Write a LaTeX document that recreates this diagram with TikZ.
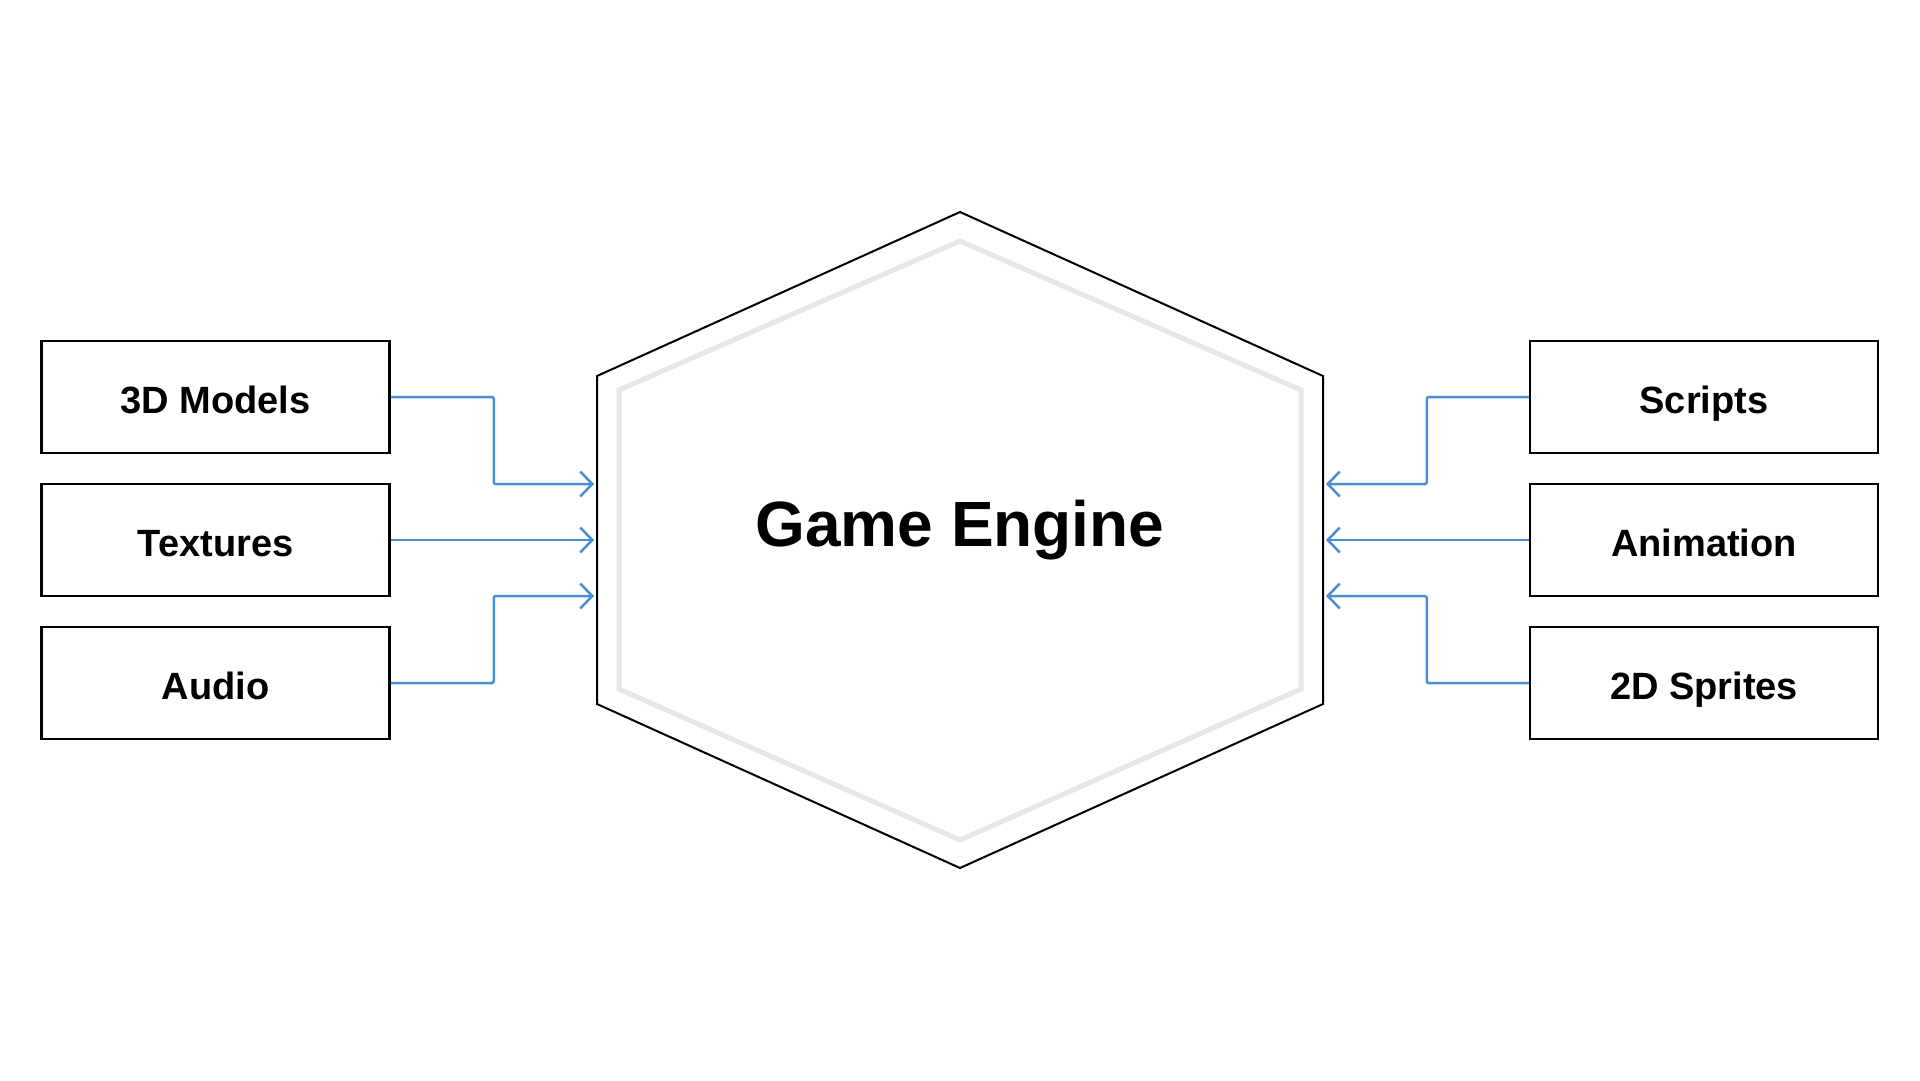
\documentclass[tikz,border=0pt]{standalone}
\usepackage{fontspec}
\setmainfont{Liberation Sans}
\usetikzlibrary{arrows.meta}
\definecolor{feedblue}{HTML}{4A8FD3}
\definecolor{hexgray}{HTML}{E6E7E7}
\tikzset{
  asset/.style={draw=black, line width=2.5pt, minimum width=348pt, minimum height=112pt, inner sep=0pt, text height=32pt, text depth=0pt, font=\fontsize{38}{46}\selectfont\bfseries},
  feed/.style={draw=feedblue, line width=2.5pt, rounded corners=2pt, -{Straight Barb[length=12pt, width=25pt, line width=2.5pt]}}
}

\begin{document}
\begin{tikzpicture}[x=1pt, y=-1pt]
\useasboundingbox (0,0) rectangle (1920,1080);

% hexagon
\draw[black, line width=2pt] (960,212) -- (1323,376) -- (1323,704) -- (960,868) -- (597,704) -- (597,376) -- cycle;
\draw[hexgray, line width=5pt] (960,241) -- (1301,390) -- (1301,689) -- (960,840) -- (619,689) -- (619,390) -- cycle;
\node[text height=46pt, text depth=0pt, inner sep=0pt] (engine) at (960,523) {\fontsize{64}{76}\selectfont\bfseries Game Engine};

% assets
\node[asset] (models) at (215.5,397) {3D Models};
\node[asset] (textures) at (215.5,540) {Textures};
\node[asset] (audio) at (215.5,683) {Audio};
\node[asset] (scripts) at (1704,397) {Scripts};
\node[asset] (animation) at (1704,540) {Animation};
\node[asset] (sprites) at (1704,683) {2D Sprites};

\coordinate (inA) at (594,484);
\coordinate (inB) at (594,540);
\coordinate (inC) at (594,596);
\coordinate (inD) at (1326,484);
\coordinate (inE) at (1326,540);
\coordinate (inF) at (1326,596);

\draw[feed] (models.east) -- ++(103,0) |- (inA);
\draw[feed] (textures.east) -- (inB);
\draw[feed] (audio.east) -- ++(103,0) |- (inC);

\draw[feed] (scripts.west) -- ++(-102,0) |- (inD);
\draw[feed] (animation.west) -- (inE);
\draw[feed] (sprites.west) -- ++(-102,0) |- (inF);

\end{tikzpicture}
\end{document}
